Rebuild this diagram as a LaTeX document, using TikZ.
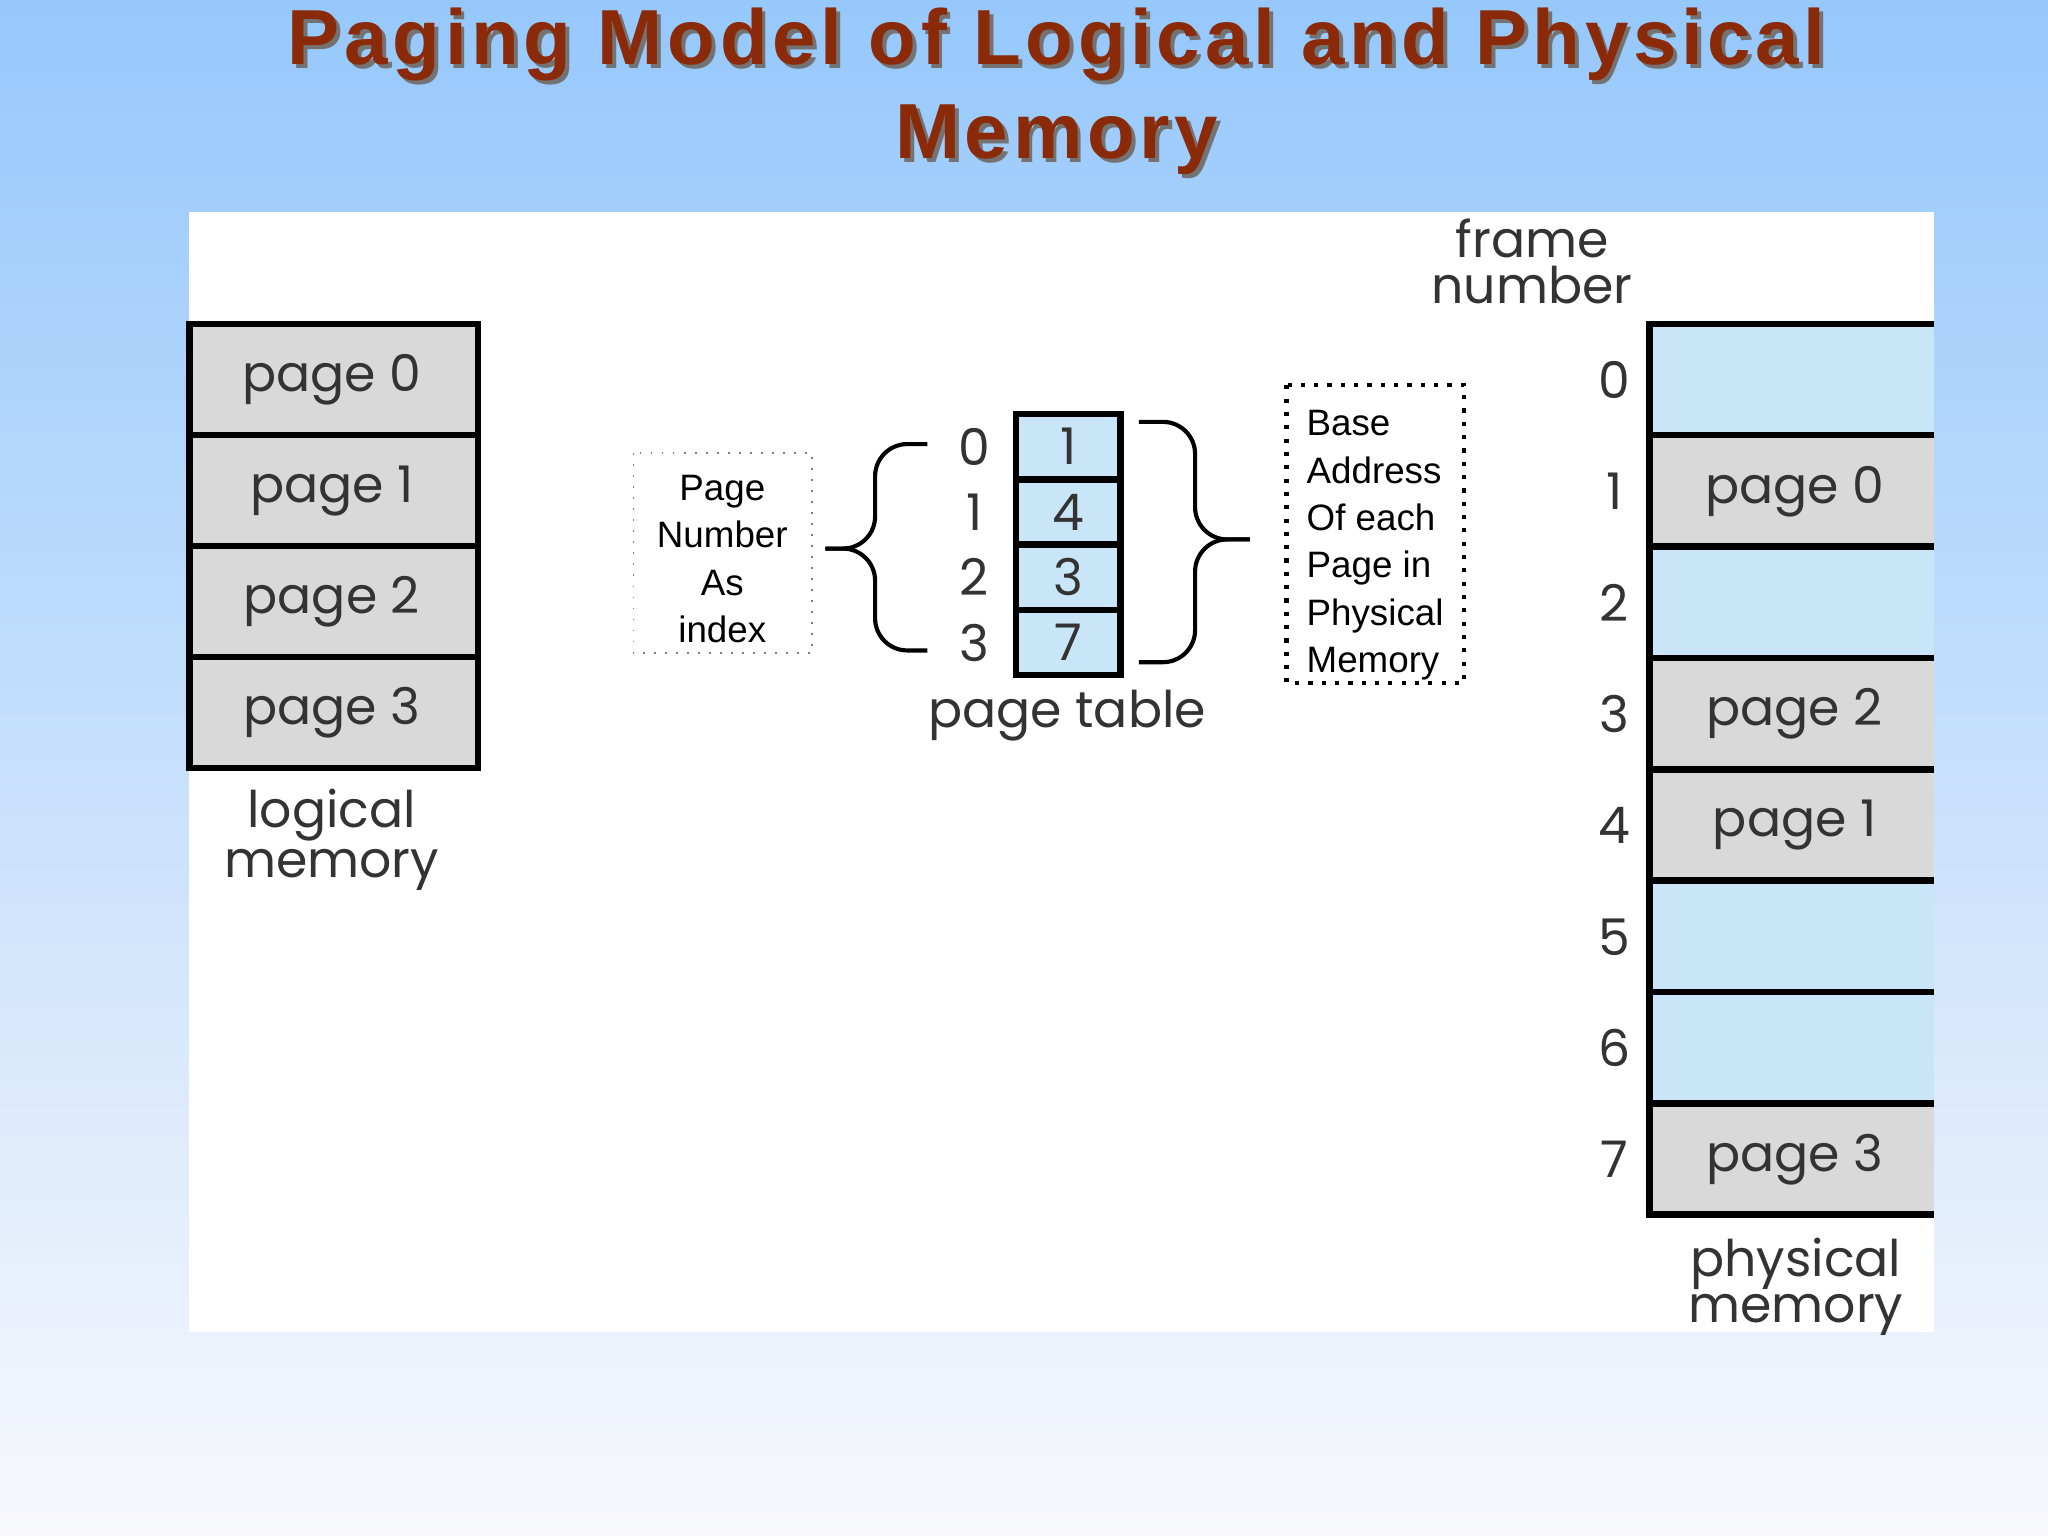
\documentclass[tikz,border=0pt]{standalone}
\usepackage{fontspec}
\setmainfont{Liberation Sans}
\newfontfamily\geo{Poppins}
\definecolor{titlec}{HTML}{8B2A08}
\definecolor{cellblue}{HTML}{C9E6F8}
\definecolor{cellgray}{HTML}{D9D9D9}
\tikzset{
  lbl/.style={font=\geo\fontsize{11}{13}\selectfont, text=black!80},
  gcell/.style={fill=cellgray, draw=black, line width=1.4pt},
  bcell/.style={fill=cellblue, draw=black, line width=1.4pt},
  note/.style={font=\fontsize{8}{10.3}\selectfont, align=center},
  bracepath/.style={line width=0.9pt, rounded corners=7pt},
}
\begin{document}
\begin{tikzpicture}[x=0.01cm,y=-0.01cm]
\shade[top color={rgb,255:red,150;green,200;blue,252}, bottom color={rgb,255:red,248;green,248;blue,252}] (0,0) rectangle (1568,1176);
\useasboundingbox (0,0) rectangle (1568,1176);
\fill[white] (145,162) rectangle (1481,1020);
% title
\foreach \dx/\c in {3/black!55, 0/titlec}{
  \node[font=\bfseries\fontsize{17}{20.5}\selectfont, text=\c, align=center] at (809+\dx,70+\dx)
   {\addfontfeature{LetterSpace=6}Paging Model of Logical and Physical\\\addfontfeature{LetterSpace=6}Memory};
}
% logical memory
\foreach \i in {0,...,3}{
  \draw[gcell] (145,{248+85*\i}) rectangle (366,{333+85*\i});
  \node[lbl] (lp\i) at (254,{291+85*\i}) {page \i};
}
\node[lbl, align=center] (lm) at (254,643) {logical\\[-2pt]memory};
% page table
\foreach \i/\v in {0/1,1/4,2/3,3/7}{
  \draw[bcell] (778,{317+50*\i}) rectangle (858,{367+50*\i});
  \node[lbl] (pt\i) at (818,{342+50*\i}) {\v};
  \node[lbl] (pi\i) at (746,{342+50*\i}) {\i};
}
\node[lbl] (ptl) at (817,548) {page table};
% physical memory
\foreach \i/\t in {0/,1/page 0,2/,3/page 2,4/page 1,5/,6/,7/page 3}{
  \ifx\t\empty
    \draw[bcell] (1481,{248+85.25*\i}) -- (1263,{248+85.25*\i}) -- (1263,{333.25+85.25*\i}) -- (1481,{333.25+85.25*\i});
  \else
    \draw[gcell] (1481,{248+85.25*\i}) -- (1263,{248+85.25*\i}) -- (1263,{333.25+85.25*\i}) -- (1481,{333.25+85.25*\i});
    \node[lbl] at (1374,{291+85.25*\i}) {\t};
  \fi
  \node[lbl] (fn\i) at (1236,{291+85.25*\i}) {\i};
}
\node[lbl, align=center] (fnl) at (1173,200) {frame\\[-3pt]number};
\node[lbl, align=center] (pm) at (1375,985) {physical\\[-3pt]memory};
% braces
\coordinate (lbt) at (632,420);
\coordinate (rbt) at (957,413);
\draw[bracepath] (710,340) -- (670,340) -- (670,420) -- (lbt);
\draw[bracepath] (lbt) -- (670,420) -- (670,498) -- (710,498);
\draw[bracepath] (872,323) -- (915,323) -- (915,413) -- (rbt);
\draw[bracepath] (rbt) -- (915,413) -- (915,507) -- (872,507);
% notes
\draw[dotted, draw=black!50] (485,347) rectangle (622,500);
\node[note] (n1) at (553,428) {Page\\Number\\As\\index};
\draw[dotted, line width=0.9pt] (985,295) rectangle (1121,523);
\node[note, align=left, anchor=north west] (n2) at (988,302) {Base\\Address\\Of each\\Page in\\Physical\\Memory};
\end{tikzpicture}
\end{document}
